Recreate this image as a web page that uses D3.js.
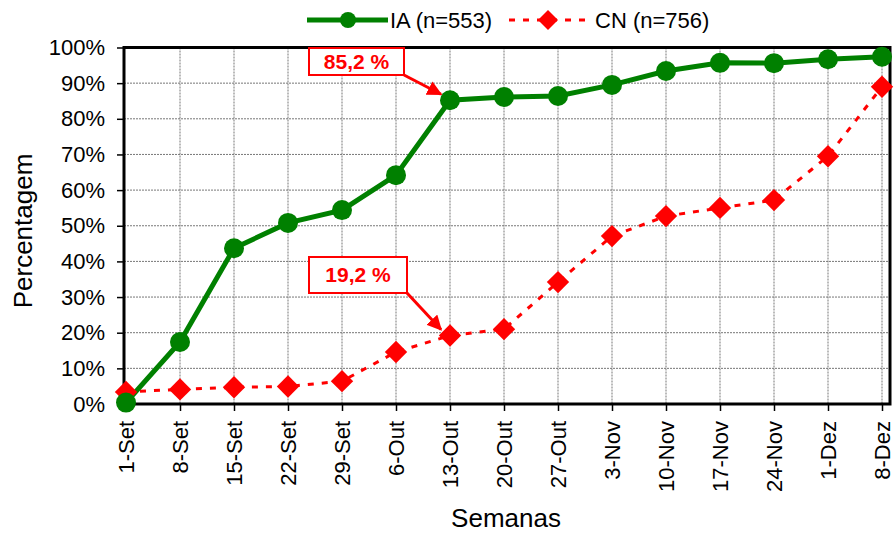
<!DOCTYPE html>
<html><head><meta charset="utf-8">
<script src="https://cdn.jsdelivr.net/npm/d3@7"></script>
<style>body{margin:0;background:#fff}text{font-family:Arial,"Liberation Sans",sans-serif}</style>
</head><body><svg id="c" width="896" height="533"></svg>
<script>
const categories=["1-Set","8-Set","15-Set","22-Set","29-Set","6-Out","13-Out","20-Out","27-Out","3-Nov","10-Nov","17-Nov","24-Nov","1-Dez","8-Dez"];
const iaValues=[0.4,17.4,43.7,50.8,54.4,64.2,85.2,86.1,86.4,89.5,93.4,95.7,95.6,96.7,97.4];
const cnValues=[3.4,4.1,4.7,4.9,6.4,14.6,19.2,21.0,34.2,47.1,52.7,55.0,57.2,69.5,89.0];
const yTicks=[0,10,20,30,40,50,60,70,80,90,100];
const seriesNames=["IA (n=553)","CN (n=756)"];
const annotations=[{label:"85,2 %",series:0,index:6},{label:"19,2 %",series:1,index:6}];

const svg=d3.select("#c");
const L=124,R=890,T=47.5,B=404;
const x=d3.scalePoint().domain(categories).range([126,882]);
const y=d3.scaleLinear().domain([0,100]).range([B,T]);

// gridlines
const g=svg.append("g");
g.selectAll(".hg").data(yTicks.slice(1,-1)).join("line")
 .attr("x1",L).attr("x2",R).attr("y1",d=>y(d)).attr("y2",d=>y(d))
 .attr("stroke","#777").attr("stroke-width",1).attr("stroke-dasharray","2,1");
g.selectAll(".vg").data(categories.slice(1)).join("line")
 .attr("x1",d=>x(d)).attr("x2",d=>x(d)).attr("y1",T).attr("y2",B)
 .attr("stroke","#777").attr("stroke-width",1).attr("stroke-dasharray","2,1");

// axes
const ya=svg.append("g").attr("transform",`translate(${L},0)`)
 .call(d3.axisLeft(y).tickValues(yTicks).tickFormat(d=>d+"%").tickSize(7).tickPadding(12));
ya.select(".domain").remove();
ya.selectAll("line").attr("stroke","#000").attr("stroke-width",1.5);
ya.selectAll("text").attr("font-size",22).attr("fill","#000");

const xa=svg.append("g").attr("transform",`translate(0,${B})`)
 .call(d3.axisBottom(x).tickSize(7).tickPadding(0));
xa.select(".domain").remove();
xa.selectAll("line").attr("stroke","#000").attr("stroke-width",1.5);
xa.selectAll("text").attr("font-size",22).attr("fill","#000")
 .attr("transform","translate(0,17) rotate(-90)").attr("text-anchor","end").attr("dy","0.35em").attr("y",0).attr("x",0);

// plot border
svg.append("rect").attr("x",L).attr("y",T).attr("width",R-L).attr("height",B-T)
 .attr("fill","none").attr("stroke","#000").attr("stroke-width",3);

// lines
const line=d3.line().x((d,i)=>x(categories[i])).y(d=>y(d));
svg.append("path").datum(cnValues).attr("d",line).attr("fill","none")
 .attr("stroke","#ff0000").attr("stroke-width",3).attr("stroke-dasharray","6,8");
svg.append("path").datum(iaValues).attr("d",line).attr("fill","none")
 .attr("stroke","#008000").attr("stroke-width",5);

svg.selectAll(".cn").data(cnValues).join("path")
 .attr("transform",(d,i)=>`translate(${x(categories[i])},${y(d)}) rotate(45)`)
 .attr("d",d3.symbol().type(d3.symbolSquare).size(250)()).attr("fill","#ff0000");
svg.selectAll(".ia").data(iaValues).join("circle")
 .attr("cx",(d,i)=>x(categories[i])).attr("cy",d=>y(d)).attr("r",10).attr("fill","#008000");

// axis titles
svg.append("text").attr("transform","translate(32,231) rotate(-90)").attr("text-anchor","middle")
 .attr("font-size",26).text("Percentagem");
svg.append("text").attr("x",506).attr("y",527).attr("text-anchor","middle")
 .attr("font-size",26).text("Semanas");

// legend
const lg=svg.append("g");
lg.append("line").attr("x1",307).attr("x2",388).attr("y1",20).attr("y2",20).attr("stroke","#008000").attr("stroke-width",5);
lg.append("circle").attr("cx",348).attr("cy",20).attr("r",8).attr("fill","#008000");
lg.append("text").attr("x",390).attr("y",28).attr("font-size",22).text(seriesNames[0]);
lg.append("line").attr("x1",509).attr("x2",590).attr("y1",20).attr("y2",20).attr("stroke","#ff0000").attr("stroke-width",3).attr("stroke-dasharray","6,8");
lg.append("path").attr("transform","translate(548,20) rotate(45)").attr("d",d3.symbol().type(d3.symbolSquare).size(200)()).attr("fill","#ff0000");
lg.append("text").attr("x",595).attr("y",28).attr("font-size",22).text(seriesNames[1]);

// annotations
svg.append("defs").append("marker").attr("id","ah").attr("viewBox","0 0 10 10").attr("refX",9).attr("refY",5)
 .attr("markerWidth",5).attr("markerHeight",5).attr("orient","auto")
 .append("path").attr("d","M0,0 L10,5 L0,10 z").attr("fill","#ff0000");
const boxes=[{x0:309,y0:48,w:95,h:27},{x0:309,y0:257,w:98,h:36}];
annotations.forEach((a,k)=>{
  const b=boxes[k];
  const vals=a.series===0?iaValues:cnValues;
  const px=x(categories[a.index]), py=y(vals[a.index]);
  svg.append("rect").attr("x",b.x0).attr("y",b.y0).attr("width",b.w).attr("height",b.h)
   .attr("fill","#fff").attr("stroke","#ff0000").attr("stroke-width",2);
  svg.append("text").attr("x",b.x0+b.w/2).attr("y",b.y0+b.h/2+7).attr("text-anchor","middle")
   .attr("font-size",21).attr("font-weight","bold").attr("fill","#ff0000").text(a.label);
  svg.append("line").attr("x1",b.x0+b.w).attr("y1",b.y0+b.h).attr("x2",px-9).attr("y2",py-6)
   .attr("stroke","#ff0000").attr("stroke-width",3).attr("marker-end","url(#ah)");
});
</script></body></html>
